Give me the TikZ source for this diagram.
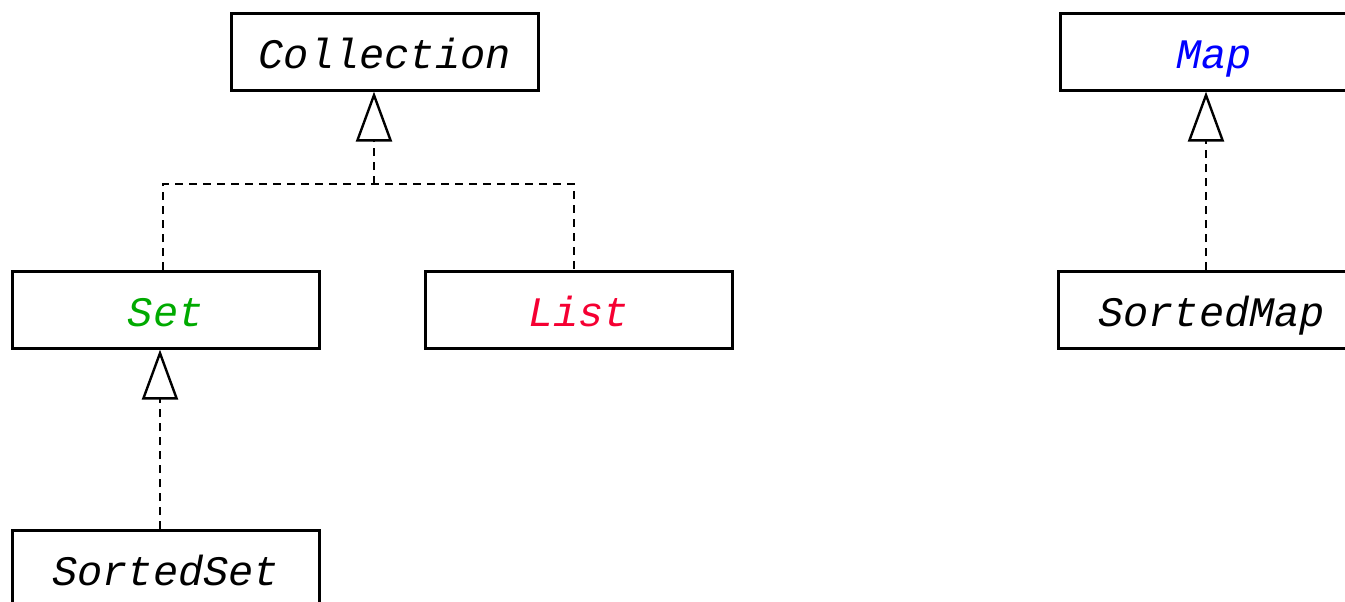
\documentclass[tikz,border=0pt]{standalone}
\usepackage{fontspec}
\setmonofont{Liberation Mono}
\usetikzlibrary{arrows.meta}
\definecolor{setgreen}{RGB}{0,170,0}
\definecolor{listred}{RGB}{245,0,50}
\definecolor{mapblue}{RGB}{0,0,255}
\tikzset{
  cls/.style={draw=black, line width=2.6pt, minimum width=307pt, minimum height=77pt,
    inner sep=0pt, text height=34pt, text depth=0pt,
    font=\fontsize{42pt}{42pt}\selectfont\ttfamily\itshape},
  realize/.style={line width=2.4pt, dash pattern=on 8pt off 6pt,
    -{Triangle[open, length=50pt, width=36pt, line width=2.4pt]}},
  link/.style={line width=2.4pt, dash pattern=on 8pt off 6pt},
}
\begin{document}
\begin{tikzpicture}[x=1pt,y=-1pt]
\useasboundingbox (0,0) rectangle (1345,602);
\node[cls, anchor=north west] (coll) at (230,12) {Collection};
\node[cls, anchor=north west, text=setgreen] (set) at (11,270) {Set};
\node[cls, anchor=north west, text=listred] (list) at (424,270) {List};
\node[cls, anchor=north west] (sset) at (11,529) {SortedSet};
\node[cls, anchor=north west, text=mapblue] (map) at (1059,12) {Map};
\node[cls, anchor=north west] (smap) at (1057,270) {SortedMap};
\coordinate (j) at (374,184);
\coordinate (sx) at (163,0);
\coordinate (lx) at (574,0);
\coordinate (ssx) at (160,0);
\coordinate (mx) at (1206,0);
\draw[link] (set.north -| sx) |- (j) -| (list.north -| lx);
\draw[realize] (j) -- (coll.south -| j);
\draw[realize] (sset.north -| ssx) -- (set.south -| ssx);
\draw[realize] (smap.north -| mx) -- (map.south -| mx);
\end{tikzpicture}
\end{document}
